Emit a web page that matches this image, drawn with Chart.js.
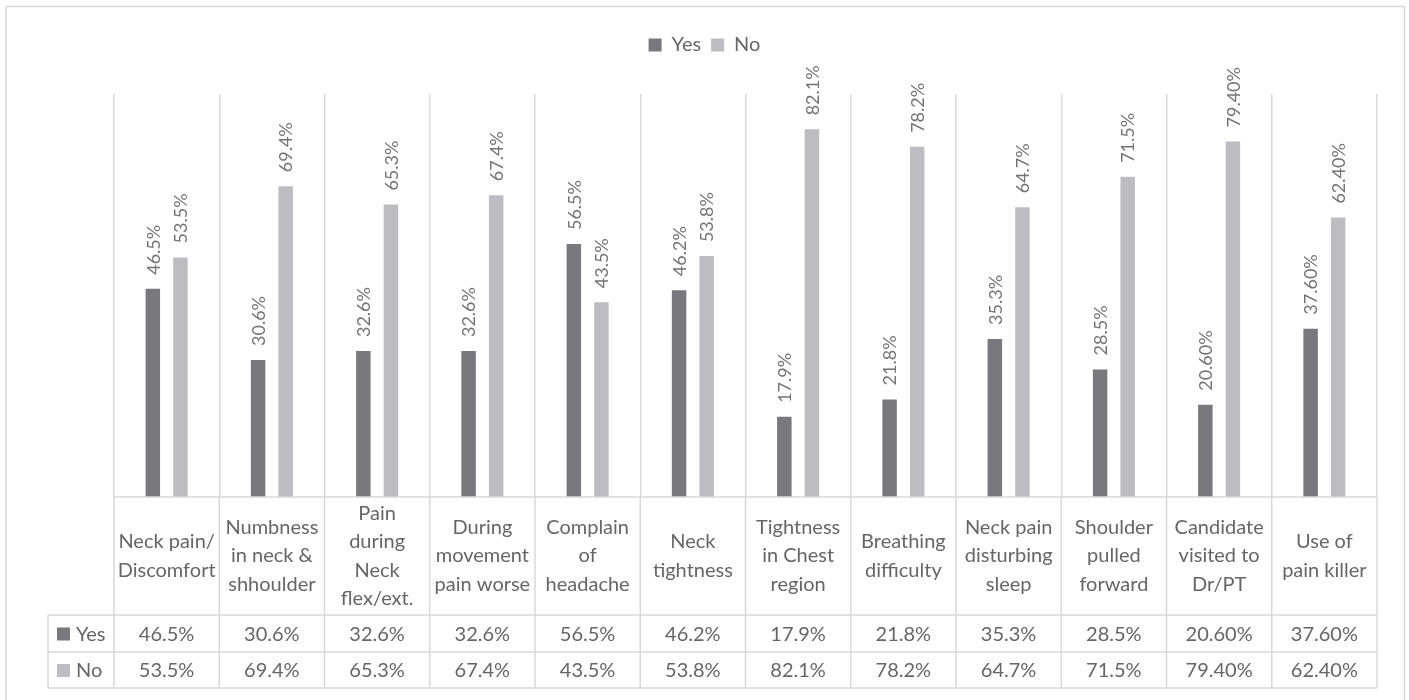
<!DOCTYPE html>
<html>
<head>
<meta charset="utf-8">
<script src="https://cdn.jsdelivr.net/npm/chart.js@4"></script>
<style>
  html, body { margin: 0; padding: 0; background: #fff; }
  #wrap { position: relative; width: 1409px; height: 700px; }
</style>
</head>
<body>
<div id="wrap"><canvas id="chart" width="1409" height="700"></canvas></div>
<script>
// ---- data -----------------------------------------------------------------
const categories = [
    ['Neck pain/', 'Discomfort'],
    ['Numbness', 'in neck &', 'shhoulder'],
    ['Pain', 'during', 'Neck', 'flex/ext.'],
    ['During', 'movement', 'pain worse'],
    ['Complain', 'of', 'headache'],
    ['Neck', 'tightness'],
    ['Tightness', 'in Chest', 'region'],
    ['Breathing', 'difficulty'],
    ['Neck pain', 'disturbing', 'sleep'],
    ['Shoulder', 'pulled', 'forward'],
    ['Candidate', 'visited to', 'Dr/PT'],
    ['Use of', 'pain killer']
];
const yesValues = [46.5, 30.6, 32.6, 32.6, 56.5, 46.2, 17.9, 21.8, 35.3, 28.5, 20.6, 37.6];
const noValues  = [53.5, 69.4, 65.3, 67.4, 43.5, 53.8, 82.1, 78.2, 64.7, 71.5, 79.4, 62.4];
// decimals shown for each value (the last two columns were typed with two)
const yesDecimals = [1, 1, 1, 1, 1, 1, 1, 1, 1, 1, 2, 2];
const noDecimals  = [1, 1, 1, 1, 1, 1, 1, 1, 1, 1, 2, 2];
const seriesNames = ['Yes', 'No'];

// ---- look -----------------------------------------------------------------
const FONT = 'Lato';
const DARK = '#78787d';
const LIGHT = '#bdbdc1';
const LINE = '#d9d9d9';
const TEXT = '#666666';
const LABEL = '#747474';

// table rows (y), header cell starts at chart bottom
const TABLE = { headerBottom: 615, rowBottoms: [652, 688], keyLeft: 48 };

const fmt = (v, d) => v.toFixed(d) + '%';

// outer frame
const framePlugin = {
    id: 'frame',
    beforeDraw(chart) {
        const ctx = chart.ctx;
        ctx.save();
        ctx.fillStyle = '#fff';
        ctx.fillRect(0, 0, chart.width, chart.height);
        ctx.strokeStyle = LINE;
        ctx.lineWidth = 1.5;
        ctx.strokeRect(6, 6.5, 1398.5, 700);
        ctx.restore();
    }
};

// rotated value labels above every bar
const valueLabels = {
    id: 'valueLabels',
    afterDatasetsDraw(chart) {
        const ctx = chart.ctx;
        ctx.save();
        ctx.font = '18px ' + FONT;
        ctx.fillStyle = LABEL;
        ctx.textAlign = 'left';
        ctx.textBaseline = 'middle';
        chart.data.datasets.forEach((ds, di) => {
            const meta = chart.getDatasetMeta(di);
            meta.data.forEach((bar, i) => {
                ctx.save();
                ctx.translate(bar.x + 1, bar.y - 14);
                ctx.rotate(-Math.PI / 2);
                ctx.fillText(fmt(ds.data[i], ds.decimals[i]), 0, 0);
                ctx.restore();
            });
        });
        ctx.restore();
    }
};

// data table under the plot
const dataTable = {
    id: 'dataTable',
    afterDraw(chart) {
        const ctx = chart.ctx;
        const x = chart.scales.x;
        const area = chart.chartArea;
        const n = categories.length;
        const step = (area.right - area.left) / n;
        const top = area.bottom;
        const bottom = TABLE.rowBottoms[TABLE.rowBottoms.length - 1];

        ctx.save();
        ctx.strokeStyle = LINE;
        ctx.lineWidth = 1.5;
        ctx.beginPath();
        // horizontal rules
        ctx.moveTo(area.left, top); ctx.lineTo(area.right, top);
        ctx.moveTo(TABLE.keyLeft, TABLE.headerBottom); ctx.lineTo(area.right, TABLE.headerBottom);
        TABLE.rowBottoms.forEach(y => { ctx.moveTo(TABLE.keyLeft, y); ctx.lineTo(area.right, y); });
        // vertical rules
        for (let i = 0; i <= n; i++) {
            const lx = area.left + i * step;
            ctx.moveTo(lx, top); ctx.lineTo(lx, bottom);
        }
        ctx.moveTo(TABLE.keyLeft, TABLE.headerBottom); ctx.lineTo(TABLE.keyLeft, bottom);
        ctx.stroke();

        // category headers
        ctx.fillStyle = TEXT;
        ctx.font = '20px ' + FONT;
        ctx.textAlign = 'center';
        ctx.textBaseline = 'middle';
        const lh = 28.5;
        const headMid = (top + TABLE.headerBottom) / 2;
        categories.forEach((lines, i) => {
            const cx = x.getPixelForValue(i);
            const y0 = headMid - (lines.length - 1) * lh / 2;
            lines.forEach((t, k) => ctx.fillText(t, cx, y0 + k * lh));
        });

        // value rows
        let rowTop = TABLE.headerBottom;
        chart.data.datasets.forEach((ds, di) => {
            const rowBottom = TABLE.rowBottoms[di];
            const cy = (rowTop + rowBottom) / 2;
            ds.data.forEach((v, i) => {
                ctx.fillText(fmt(v, ds.decimals[i]), x.getPixelForValue(i), cy + 1);
            });
            // legend key
            ctx.fillStyle = ds.backgroundColor;
            ctx.fillRect(57, cy - 6, 13, 13);
            ctx.fillStyle = TEXT;
            ctx.textAlign = 'left';
            ctx.fillText(ds.label, 76, cy + 1);
            ctx.textAlign = 'center';
            rowTop = rowBottom;
        });
        ctx.restore();
    }
};

new Chart(document.getElementById('chart'), {
    type: 'bar',
    data: {
        labels: categories.map(c => c.join(' ')),
        datasets: [
            { label: seriesNames[0], data: yesValues, decimals: yesDecimals, backgroundColor: DARK },
            { label: seriesNames[1], data: noValues, decimals: noDecimals, backgroundColor: LIGHT }
        ]
    },
    options: {
        responsive: false,
        animation: false,
        devicePixelRatio: 1,
        categoryPercentage: 0.524,
        barPercentage: 0.525,
        layout: { padding: { left: 32, right: 32, top: 25, bottom: 203 } },
        plugins: {
            tooltip: { enabled: false },
            legend: {
                position: 'top',
                labels: {
                    font: { family: FONT, size: 20 },
                    color: TEXT,
                    boxWidth: 13,
                    boxHeight: 13,
                    padding: 10
                }
            }
        },
        scales: {
            x: {
                display: true,
                offset: true,
                ticks: { display: false },
                grid: { display: true, offset: true, color: LINE, lineWidth: 1.5, drawTicks: false },
                border: { display: false },
                afterFit: s => { s.height = 0; }
            },
            xTop: {
                type: 'category',
                position: 'top',
                display: true,
                ticks: { display: false },
                grid: { display: false, drawTicks: false },
                border: { display: false },
                afterFit: s => { s.height = 29; }
            },
            y: {
                display: true,
                min: 0,
                max: 90,
                ticks: { display: false },
                grid: { display: false, drawTicks: false },
                border: { display: false },
                afterFit: s => { s.width = 82; }
            }
        }
    },
    plugins: [framePlugin, valueLabels, dataTable]
});
</script>
</body>
</html>
